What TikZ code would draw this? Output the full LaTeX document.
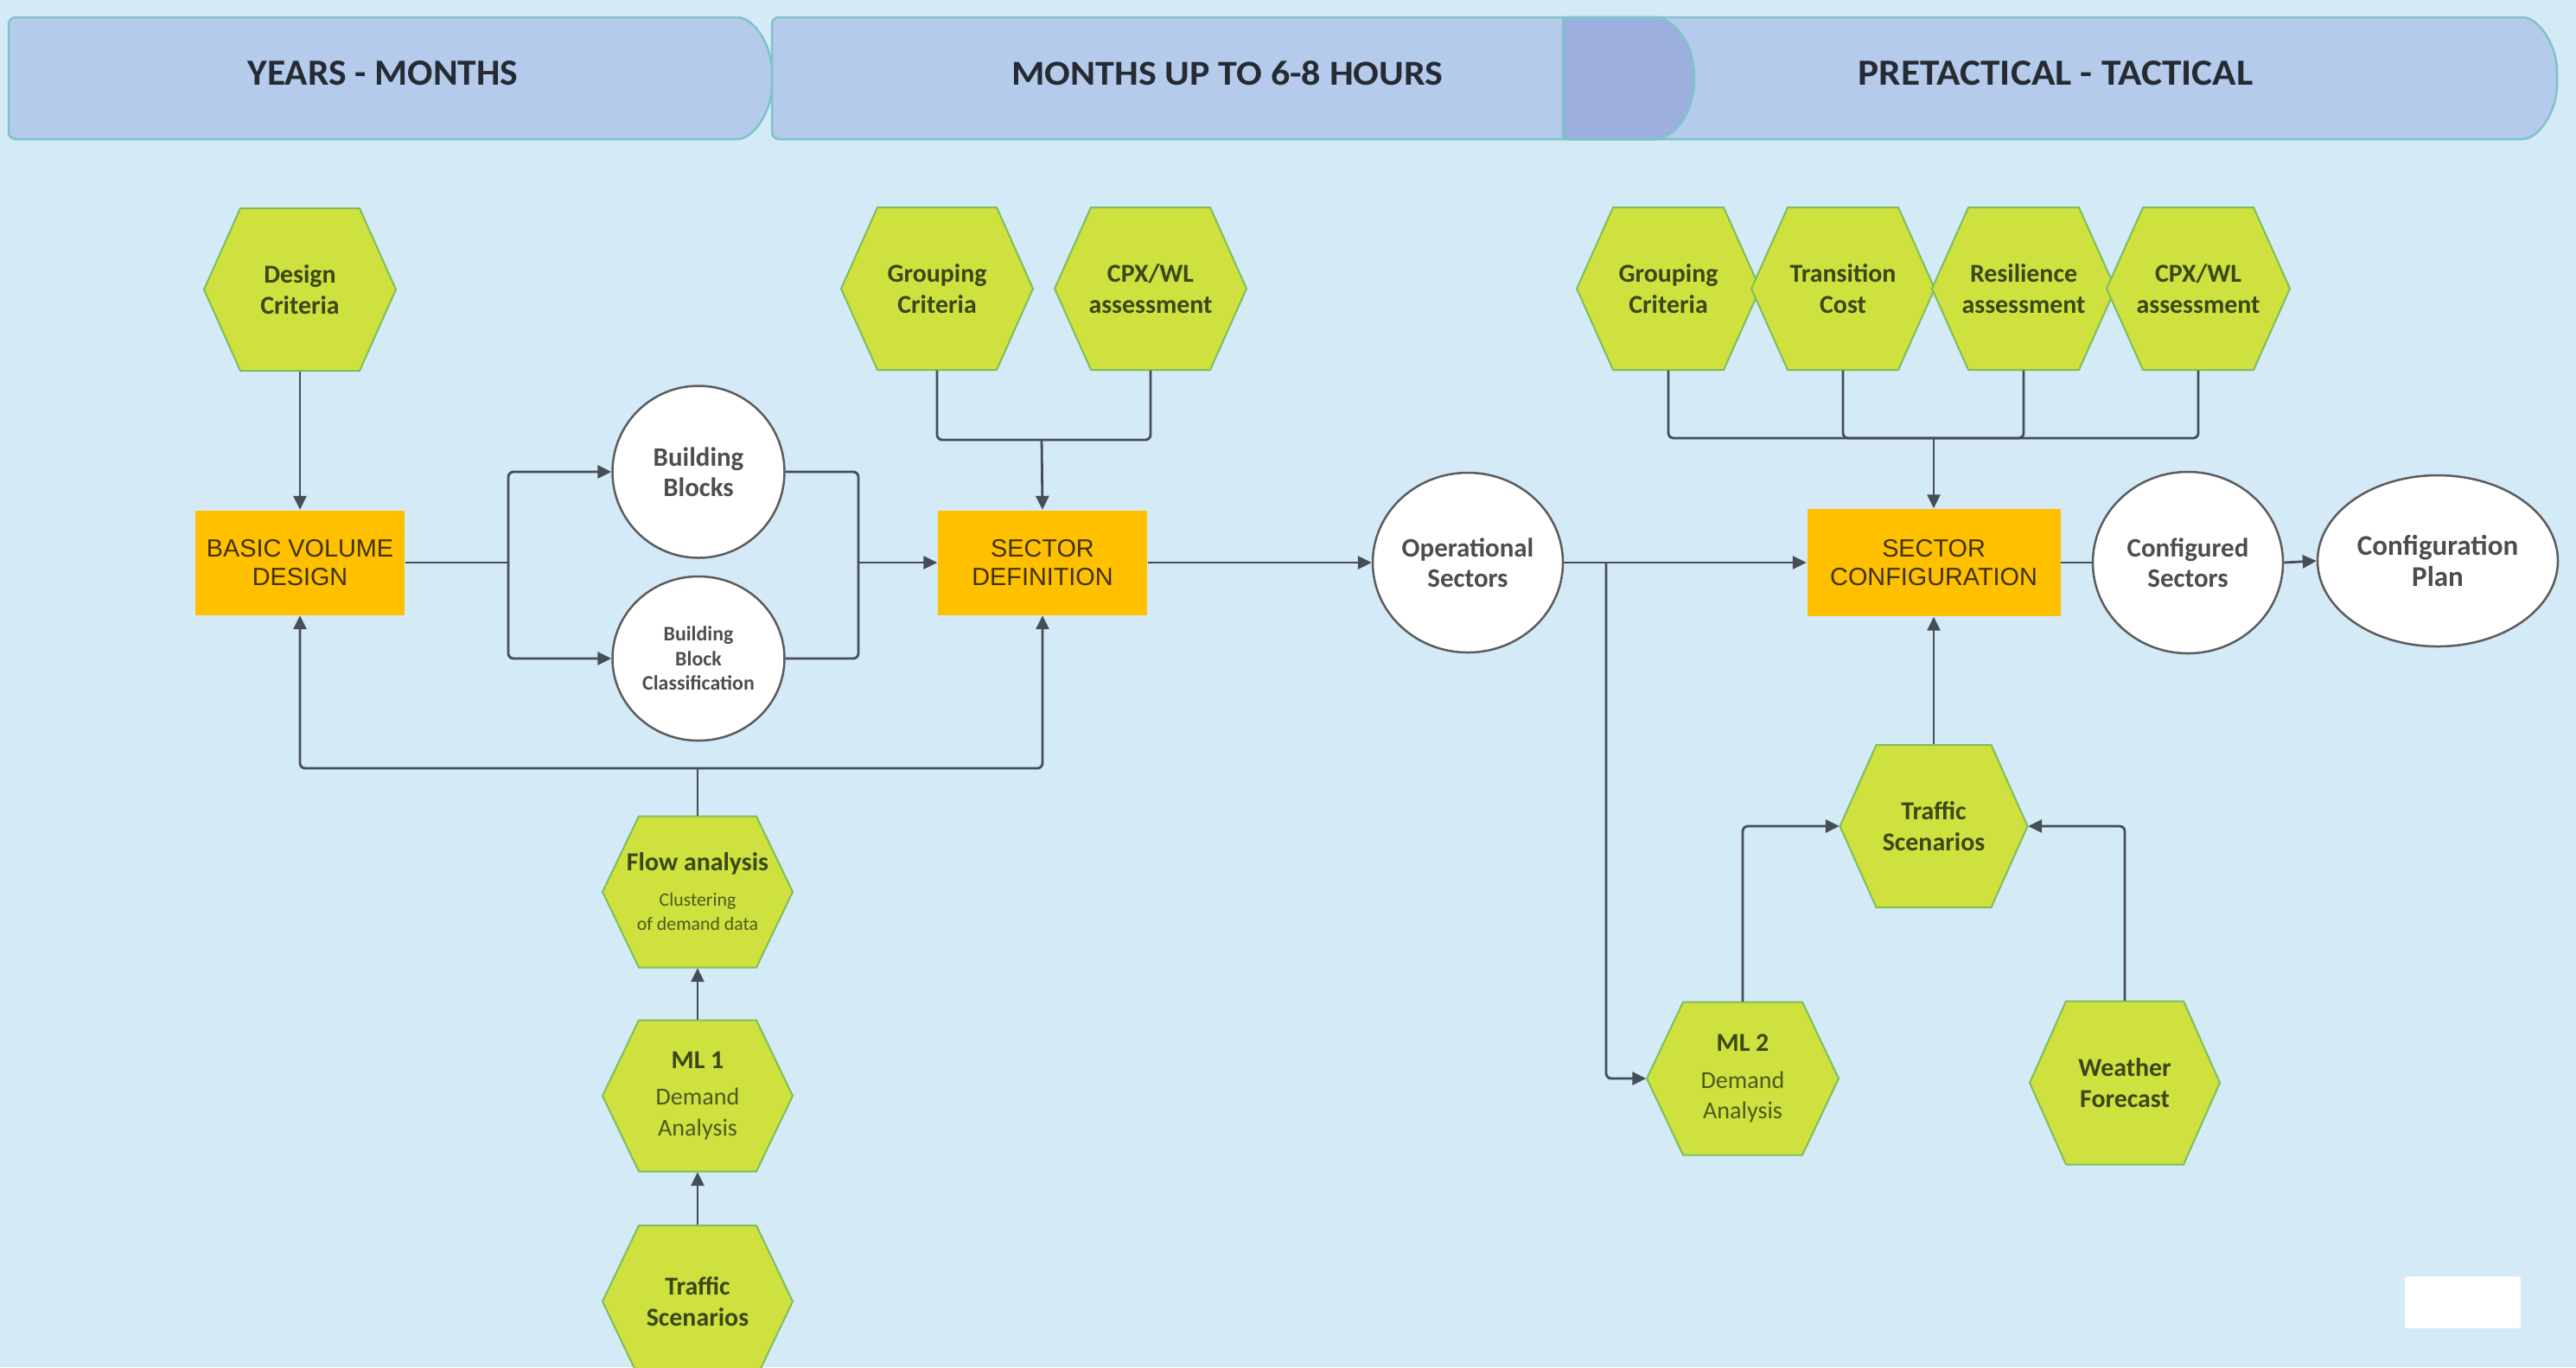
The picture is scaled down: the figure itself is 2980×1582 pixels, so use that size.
\documentclass[tikz,border=0pt]{standalone}
\usepackage{fontspec}
\setmainfont{Carlito}
\newfontfamily\arialf{Liberation Sans}
\usetikzlibrary{shapes.geometric,arrows.meta}
\definecolor{bgc}{HTML}{D4EAF7}
\definecolor{hdrfill}{HTML}{B5CBEB}
\definecolor{hdrover}{HTML}{9DAFDF}
\definecolor{hdrborder}{HTML}{7FC3C9}
\definecolor{hdrtext}{HTML}{262A33}
\definecolor{hexfill}{HTML}{CFE13E}
\definecolor{hexborder}{HTML}{7DBE5C}
\definecolor{hextext}{HTML}{3A4716}
\definecolor{hexsub}{HTML}{4C5A20}
\definecolor{orangec}{HTML}{FFC000}
\definecolor{orangetext}{HTML}{3F3208}
\definecolor{circborder}{HTML}{5C5C5C}
\definecolor{circtext}{HTML}{4D4D4D}
\definecolor{linec}{HTML}{474D55}
\newcommand\hexdraw[4]{%
  \filldraw[hexstyle] ({#1-#3/2},#2) -- ({#1-#3/2+42},{#2-#4/2}) -- ({#1+#3/2-42},{#2-#4/2}) -- ({#1+#3/2},#2) -- ({#1+#3/2-42},{#2+#4/2}) -- ({#1-#3/2+42},{#2+#4/2}) -- cycle;}
\newcommand\hexnode[6]{%
  \hexdraw{#2}{#3}{#4}{#5}%
  \node[hexlabel,minimum width={#4*0.1mm},minimum height={#5*0.1mm}] (#1) at (#2,#3) {#6};}
\newcommand\hdrseg[3]{%
  \filldraw[hdrstyle] (#1,90.5) -- (#1,20) -- (#2,20) .. controls ({#2+26.5},20) and (#3,51.6) .. (#3,90.5) .. controls (#3,129.4) and ({#2+26.5},161) .. (#2,161) -- (#1,161) -- cycle;}
\begin{document}
\begin{tikzpicture}[x=0.1mm,y=-0.1mm,
  hexstyle/.style={fill=hexfill,draw=hexborder,line width=0.2mm},
  hexlabel/.style={inner sep=0pt,align=center,text=hextext,font=\bfseries\fontsize{8.5}{10.2}\selectfont},
  hdrstyle/.style={fill=hdrfill,draw=hdrborder,line width=0.25mm,rounded corners=0.8mm},
  hdrtext/.style={inner sep=0pt,text=hdrtext,font=\bfseries},
  obox/.style={fill=orangec,draw=none,inner sep=0pt,align=center,text=orangetext,font=\arialf\fontsize{8.2}{9.3}\selectfont},
  circ/.style={ellipse,fill=white,draw=circborder,line width=0.25mm,inner sep=0pt,align=center,text=circtext,font=\bfseries\fontsize{8.8}{9.9}\selectfont},
  conn/.style={draw=linec,line width=0.28mm,rounded corners=0.6mm},
  arr/.style={conn,-{Triangle[length=1.6mm,width=1.5mm]}}]
\fill[bgc] (0,0) rectangle (2980,1582);
\useasboundingbox (0,0) rectangle (2980,1582);
% header band
\hdrseg{10}{845}{893}
\hdrseg{893}{1912}{1960}
\hdrseg{1808}{2910}{2958}
\filldraw[fill=hdrover,draw=hdrborder,line width=0.25mm] (1808,20) -- (1912,20) .. controls (1938.5,20) and (1960,51.6) .. (1960,90.5) .. controls (1960,129.4) and (1938.5,161) .. (1912,161) -- (1808,161) -- cycle;
\node[hdrtext] (h1) at (443,85) {\resizebox{31.3mm}{2.8mm}{YEARS - MONTHS}};
\node[hdrtext] (h2) at (1420,85) {\resizebox{49.9mm}{2.8mm}{MONTHS UP TO 6-8 HOURS}};
\node[hdrtext] (h3) at (2378,85) {\resizebox{45.7mm}{2.8mm}{PRETACTICAL - TACTICAL}};
% hexagons
\hexnode{dc}{347}{335}{222}{188}{Design\\Criteria}
\hexnode{gc1}{1084}{334}{222}{188}{Grouping\\Criteria}
\hexnode{cpx1}{1331}{334}{222}{188}{CPX/WL\\assessment}
\hexnode{gc2}{1930}{334}{212}{188}{Grouping\\Criteria}
\hexnode{tc}{2132}{334}{212}{188}{Transition\\Cost}
\hexnode{ra}{2341}{334}{212}{188}{Resilience\\assessment}
\hexnode{cpx2}{2543}{334}{212}{188}{CPX/WL\\assessment}
\hexnode{fa}{807}{1032}{220}{175}{Flow analysis\\[1.2pt]{\fontsize{6.2}{8.2}\selectfont\mdseries\color{hexsub}Clustering}\\[-2pt]{\fontsize{6.2}{8.2}\selectfont\mdseries\color{hexsub}of demand data}}
\hexnode{ml1}{807}{1268}{220}{175}{ML 1\\[2pt]{\fontsize{8}{10}\selectfont\mdseries\color{hexsub}Demand}\\{\fontsize{8}{10}\selectfont\mdseries\color{hexsub}Analysis}}
\hexnode{ts1}{807}{1506}{220}{176}{Traffic\\Scenarios}
\hexnode{ts2}{2237}{956}{217}{188}{Traffic\\Scenarios}
\hexnode{ml2}{2016}{1248}{222}{177}{ML 2\\[2pt]{\fontsize{8}{10}\selectfont\mdseries\color{hexsub}Demand}\\{\fontsize{8}{10}\selectfont\mdseries\color{hexsub}Analysis}}
\hexnode{wf}{2458}{1253}{220}{189}{Weather\\Forecast}
% process boxes
\node[obox,minimum width=24.2mm,minimum height=12.1mm] (bvd) at (347,651) {BASIC VOLUME\\DESIGN};
\node[obox,minimum width=24.2mm,minimum height=12.1mm] (sd) at (1206,651) {SECTOR\\DEFINITION};
\node[obox,minimum width=29.3mm,minimum height=12.4mm] (sc) at (2237,651) {SECTOR\\CONFIGURATION};
% circles
\node[circ,minimum width=19.9mm,minimum height=19.9mm] (bb) at (808,546) {Building\\Blocks};
\node[circ,minimum width=19.9mm,minimum height=19.0mm,font=\bfseries\fontsize{6.8}{8.1}\selectfont] (bbc) at (808,762) {Building\\Block\\Classification};
\node[circ,minimum width=22.0mm,minimum height=20.8mm] (os) at (1698,651) {Operational\\Sectors};
\node[circ,minimum width=22.0mm,minimum height=21.0mm] (cs) at (2531,651) {Configured\\Sectors};
\node[circ,minimum width=27.8mm,minimum height=19.8mm,font=\bfseries\fontsize{9.4}{10.5}\selectfont] (cp) at (2820,649) {Configuration\\Plan};
% white box
\fill[white,rounded corners=0.3mm] (2782,1477) rectangle (2916,1537);
% junction points
\coordinate (j1) at (588,651);
\coordinate (j2) at (993,651);
\coordinate (j3) at (1205,509);
\coordinate (j4) at (1858,651);
\coordinate (j5) at (2237,507);
\coordinate (j6) at (807,889);
% connectors
\draw[arr] (dc.south) -- (bvd.north);
\draw[conn] (bvd.east) -- (j1);
\draw[arr] (j1) |- (bb.west);
\draw[arr] (j1) |- (bbc.west);
\draw[conn] (bb.east) -| (j2);
\draw[conn] (bbc.east) -| (j2);
\draw[arr] (j2) -- (sd.west);
\draw[conn] (gc1.south) |- (j3);
\draw[conn] (cpx1.south) |- (j3);
\draw[arr] (j3) -- (sd.north);
\draw[arr] (sd.east) -- (os.west);
\draw[arr] (os.east) -- (sc.west);
\draw[arr] (j4) |- (ml2.west);
\draw[conn] (sc.east) -- (cs.west);
\draw[arr] (cs.east) -- (cp.west);
\draw[conn] (gc2.south) |- (j5);
\draw[conn] (tc.south) |- (j5);
\draw[conn] (ra.south) |- (j5);
\draw[conn] (cpx2.south) |- (j5);
\draw[arr] (j5) -- (sc.north);
\draw[arr] (ts2.north) -- (sc.south);
\draw[arr] (ml2.north) |- (ts2.west);
\draw[arr] (wf.north) |- (ts2.east);
\draw[conn] (fa.north) -- (j6);
\draw[arr] (j6) -| (bvd.south);
\draw[arr] (j6) -| (sd.south);
\draw[arr] (ml1.north) -- (fa.south);
\draw[arr] (ts1.north) -- (ml1.south);
\end{tikzpicture}
\end{document}
